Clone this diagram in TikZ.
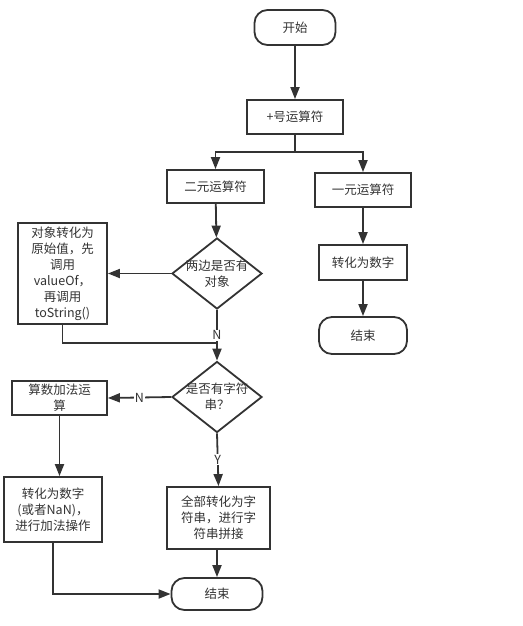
\documentclass[tikz,border=0pt]{standalone}
\usepackage{fontspec}
\setmainfont{Noto Sans CJK SC}
\usetikzlibrary{positioning, shapes.geometric, arrows.meta}

\definecolor{lc}{HTML}{333333}
\tikzset{
  box/.style={draw=lc, line width=1.8pt, inner sep=0pt, align=center, text=lc,
    font=\fontsize{12.5}{16}\selectfont, minimum width=96pt, minimum height=34pt},
  term/.style={box, rounded corners=13pt, minimum width=88pt, minimum height=35pt},
  cond/.style={draw=lc, line width=1.8pt, diamond, inner sep=0pt,
    minimum width=90pt, minimum height=71pt},
  condtext/.style={align=center, text=lc, font=\fontsize{12.5}{16}\selectfont},
  line/.style={draw=lc, line width=1.8pt},
  arr/.style={line, -{Triangle[length=12pt,width=9pt]}},
  lbl/.style={fill=white, inner sep=1pt, text=lc, font=\fontsize{12.5}{14}\selectfont}
}

\begin{document}
\begin{tikzpicture}[x=1pt, y=-1pt]
\useasboundingbox (0,0) rectangle (522,626);

% top
\node [term, minimum width=81pt] (start) at (295,27.5) {开始};
\node [box] (plus) at (295,117) {+号运算符};
\node [box, minimum width=97pt, minimum height=33pt] (bin) at (215.5,186.5) {二元运算符};
\node [box] (una) at (363,190) {一元运算符};

% right branch
\node [box, minimum width=88pt, minimum height=35pt] (num1) at (363,262.5) {转化为数字};
\node [term, minimum height=37pt] (end1) at (363,335.5) {结束};

% left branch
\node [cond] (q1) at (217,273.5) {};
\node [condtext] (q1t) at (q1) {两边是否有\\对象};
\node [box, minimum width=89pt, minimum height=101pt] (obj) at (62.5,273.5)
  {对象转化为\\原始值，先\\调用\\valueOf，\\再调用\\toString()};
\node [cond] (q2) at (217,397) {};
\node [condtext] (q2t) at (q2) {是否有字符\\串？};
\node [box, minimum width=95pt] (add) at (59.5,398) {算数加法运\\算};
\node [box, minimum width=98pt, minimum height=65pt] (num2) at (53,509.5)
  {转化为数字\\(或者NaN)，\\进行加法操作};
\node [box, minimum width=103pt, minimum height=62pt] (str) at (218.5,518)
  {全部转化为字\\符串，进行字\\符串拼接};
\node [term, minimum width=91pt, minimum height=32pt] (end2) at (217,594) {结束};

\coordinate (split) at (295,152);
\coordinate (join) at (217,343);

\draw [arr] (start) -- (plus);
\draw [line] (plus) -- (split);
\draw [arr] (split) -| (bin);
\draw [arr] (split) -| (una);
\draw [arr] (una) -- (num1);
\draw [arr] (num1) -- (end1);
\draw [arr] (bin) -- (q1);
\draw [arr] (q1.west) -- (obj.east);
\draw [arr] (q1.south) -- node [lbl] {N} (q2.north);
\draw [line] (obj.south) |- (join);
\draw [arr] (q2.west) -- node [lbl] {N} (add.east);
\draw [arr] (q2.south) -- node [lbl] {Y} (str.north);
\draw [arr] (add.south) -- (add.south |- num2.north);
\draw [arr] (str.south -| end2.north) -- (end2.north);
\draw [arr] (num2.south) |- (end2.west);
\end{tikzpicture}
\end{document}
